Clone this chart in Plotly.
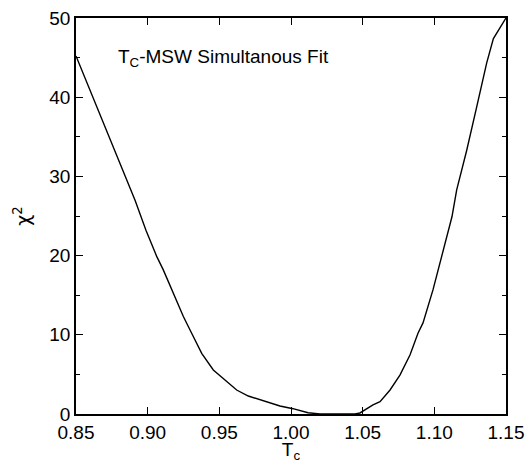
import plotly.graph_objects as go

tc = [0.85, 0.8737, 0.8912, 0.8988, 0.9063, 0.9109, 0.9179, 0.9249, 0.9307, 0.9377,
      0.9458, 0.9551, 0.9621, 0.9702, 0.9807, 0.9923, 1.0014, 1.0119, 1.0202, 1.0447,
      1.0481, 1.0572, 1.0621, 1.0691, 1.0760, 1.0830, 1.0886, 1.0921, 1.0991, 1.1060,
      1.1123, 1.1156, 1.1226, 1.1296, 1.1365, 1.1412, 1.1481, 1.15]
chi2 = [45.2, 34.6, 27.0, 23.2, 19.9, 18.2, 15.3, 12.3, 10.2, 7.66,
        5.56, 4.08, 3.03, 2.27, 1.64, 1.01, 0.67, 0.16, 0.0, 0.0,
        0.13, 1.14, 1.55, 3.03, 4.92, 7.45, 10.2, 11.5, 15.7, 20.7,
        24.9, 28.3, 33.3, 38.8, 44.3, 47.4, 49.5, 50.0]

x_ticks = [0.85, 0.90, 0.95, 1.00, 1.05, 1.10, 1.15]
x_ticklabels = ["0.85", "0.90", "0.95", "1.00", "1.05", "1.10", "1.15"]
y_ticks = [0, 10, 20, 30, 40, 50]

font = "Liberation Sans, Arial, Helvetica, sans-serif"

fig = go.Figure()
fig.add_trace(go.Scatter(x=tc, y=chi2, mode="lines",
                         line=dict(color="black", width=1.4),
                         showlegend=False, hoverinfo="skip"))

fig.update_layout(
    width=526, height=463,
    margin=dict(l=76, r=20, t=18, b=49),
    paper_bgcolor="white", plot_bgcolor="white",
    font=dict(family=font, size=19, color="black"),
    xaxis=dict(range=[0.85, 1.15], tickvals=x_ticks, ticktext=x_ticklabels,
               ticks="inside", ticklen=7, tickwidth=1, tickcolor="black",
               showline=True, linecolor="black", linewidth=1.5, mirror="ticks",
               showgrid=False, zeroline=False, automargin=False,
               title=dict(text="T<sub>c</sub>", standoff=10, font=dict(size=19))),
    yaxis=dict(range=[0, 50], tickvals=y_ticks,
               ticks="inside", ticklen=7, tickwidth=1, tickcolor="black",
               minor=dict(dtick=5, ticks="inside", ticklen=4, tickcolor="black", tickwidth=1),
               showline=True, linecolor="black", linewidth=1.5, mirror="ticks",
               showgrid=False, zeroline=False, automargin=False,
               title=dict(text="χ<sup>2</sup>", standoff=14,
                          font=dict(size=19, family="DejaVu Sans, sans-serif"))),
    annotations=[dict(text="T<sub>C</sub>-MSW Simultanous Fit", xref="paper", yref="paper",
                      x=0.093, y=0.9, xanchor="left", yanchor="middle", showarrow=False,
                      font=dict(size=19, color="black"))],
)

fig.write_html("out.html", config={"displayModeBar": False},
               post_script="document.body.style.margin='0';document.body.style.overflow='hidden';")
